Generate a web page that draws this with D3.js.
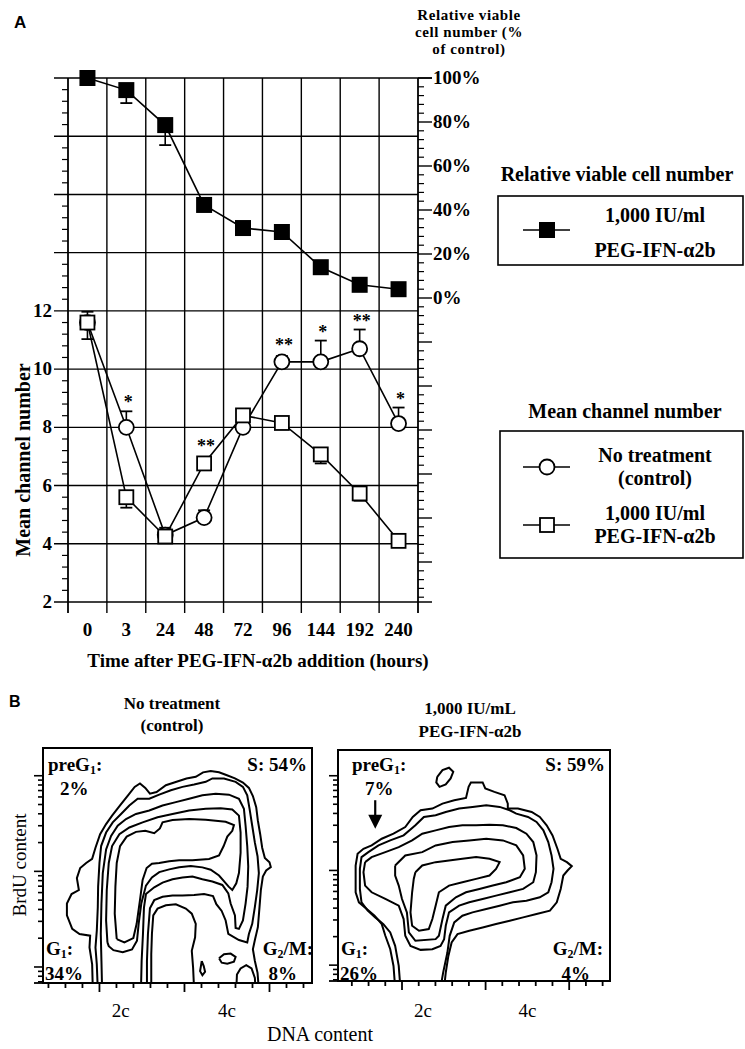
<!DOCTYPE html>
<html><head><meta charset="utf-8">
<script src="https://cdn.jsdelivr.net/npm/d3@7"></script>
<style>
body{margin:0;background:#fff;}
svg{display:block;}
text{fill:#000;}
</style></head><body>
<svg id="c" width="745" height="1049"></svg>
<script>
// ---------------- Panel A data ----------------
const times = ["0","3","24","48","72","96","144","192","240"];
const viable = [100, 94.5, 78.6, 42.3, 31.8, 30, 14, 6, 4];
const viableErr = [0, 5.9, 9.1, 0, 0, 0, 0, 0, 0];
const control = [11.6, 8.0, 4.3, 4.9, 8.0, 10.25, 10.25, 10.7, 8.13];
const controlErr = [0.37, 0.55, 0.25, 0.25, 0, 0.2, 0.73, 0.66, 0.55];
const treated = [11.6, 5.6, 4.25, 6.76, 8.41, 8.15, 7.07, 5.73, 4.1];
const treatedErr = [0.57, 0.36, 0.2, 0, 0, 0.1, 0.31, 0.25, 0];
const signif = ["", "*", "", "**", "", "**", "*", "**", "*"];
const leftTickLabels = [2, 4, 6, 8, 10, 12];
const leftGrid = [2, 4, 6, 8, 10, 12, 14, 16, 18, 20];
const rightTickLabels = [0, 20, 40, 60, 80, 100];

// ---------------- Panel B data (DNA channel, BrdU channel) ----------------
const dnaTicks = d3.range(0, 1025, 51.2);
const dnaMajor = [256, 512, 768];
const dnaLabels = [{v: 320, t: "2c"}, {v: 640, t: "4c"}];

const ctrlContours = [
 [[236,-20],[234,55],[226,105],[228,140],[196,145],[174,160],[158,200],[158,235],[172,263],[194,275],[188,310],[198,340],[216,355],[234,367],[244,400],[258,440],[276,470],[294,495],[318,525],[342,555],[362,580],[378,590],[394,577],[408,560],[428,565],[456,585],[488,595],[518,605],[546,610],[568,623],[591,627],[616,623],[638,615],[664,605],[688,593],[706,577],[718,553],[728,520],[733,480],[740,440],[746,400],[754,370],[768,357],[772,343],[758,333],[748,315],[742,275],[738,225],[733,165],[724,127],[718,100],[724,65],[732,30],[736,-20]],
 [[541,-20],[538,45],[534,95],[544,135],[546,175],[534,205],[516,220],[486,233],[456,230],[431,220],[418,200],[414,145],[412,85],[412,-20]],
 [[668,-20],[670,25],[681,43],[698,53],[714,43],[724,15],[726,-20]],
 [[564,65],[570,50],[574,33],[566,23],[559,35],[562,53],[564,65]],
 [[616,73],[631,85],[651,87],[666,77],[661,63],[641,57],[624,60],[616,73]],
 [[251,-20],[248,55],[244,105],[248,155],[251,225],[252,285],[256,355],[261,405],[276,445],[296,475],[321,500],[346,525],[371,545],[406,545],[436,557],[471,570],[506,580],[541,587],[576,595],[596,605],[631,605],[666,595],[688,580],[701,555],[708,515],[716,465],[724,415],[732,375],[736,325],[731,275],[724,225],[716,175],[706,145],[701,120],[676,127],[644,145],[636,185],[624,213],[608,233],[598,257],[571,263],[541,260],[506,259],[476,259],[446,255],[421,245],[408,221],[402,145],[399,65],[399,-20]],
 [[264,-20],[262,65],[260,145],[262,235],[266,325],[276,395],[291,435],[311,465],[336,485],[366,500],[406,510],[446,525],[486,535],[526,545],[566,555],[606,560],[646,557],[676,545],[691,515],[696,465],[701,405],[704,345],[702,285],[696,235],[688,185],[676,160],[666,163],[664,200],[651,235],[644,265],[626,290],[596,300],[566,307],[536,315],[506,312],[476,307],[446,297],[421,283],[396,263],[390,223],[387,145],[383,65],[381,-20]],
 [[280,120],[276,185],[278,275],[284,355],[294,405],[316,440],[346,460],[386,475],[431,490],[476,500],[526,510],[576,515],[621,517],[656,513],[676,495],[681,445],[681,385],[676,325],[668,295],[656,275],[645,285],[632,300],[616,318],[591,335],[566,342],[531,346],[496,342],[466,336],[436,328],[414,312],[396,288],[382,235],[374,175],[369,125],[354,99],[326,91],[298,97],[284,109],[280,120]],
 [[308,130],[302,205],[304,285],[308,355],[318,405],[338,433],[366,447],[394,450],[421,443],[438,457],[446,475],[476,482],[526,485],[576,483],[636,477],[661,467],[656,450],[641,433],[630,405],[616,377],[586,367],[536,363],[496,363],[466,360],[436,355],[414,353],[398,340],[386,305],[378,245],[368,175],[358,133],[331,120],[308,130]]
];

const pegContours = [
 [[364,610],[380,630],[400,637],[413,625],[405,605],[390,587],[371,580],[361,593],[364,610]],
 [[235,-20],[230,45],[220,95],[205,135],[194,170],[172,195],[148,215],[124,235],[114,265],[114,305],[114,345],[120,380],[138,395],[163,405],[194,425],[230,440],[266,460],[289,490],[313,510],[349,515],[380,530],[416,540],[452,547],[460,580],[467,593],[503,593],[511,575],[539,565],[570,555],[580,530],[580,515],[611,515],[653,505],[678,490],[699,465],[717,435],[732,395],[742,365],[761,355],[776,343],[763,330],[750,315],[742,275],[730,235],[709,210],[668,200],[627,190],[586,180],[544,170],[503,160],[462,150],[426,140],[408,115],[398,75],[390,25],[385,-20]],
 [[251,-20],[246,45],[235,105],[220,145],[199,170],[174,190],[151,210],[132,235],[127,275],[127,335],[132,370],[153,385],[184,405],[220,420],[261,435],[297,465],[323,490],[359,495],[390,505],[431,515],[472,520],[514,525],[555,520],[586,510],[606,500],[642,490],[668,475],[689,450],[704,415],[714,375],[720,335],[714,295],[704,265],[678,250],[637,240],[596,235],[555,225],[514,215],[472,205],[441,195],[416,175],[402,135],[395,85],[382,25],[374,-20]],
 [[143,355],[163,370],[205,385],[246,400],[287,420],[318,440],[359,450],[400,460],[441,465],[483,465],[524,467],[565,465],[606,457],[637,440],[658,415],[668,375],[666,325],[658,295],[627,275],[586,265],[544,255],[503,245],[462,235],[431,225],[400,205],[390,165],[385,125],[374,105],[349,95],[313,93],[282,105],[266,135],[261,185],[246,225],[205,245],[163,265],[143,285],[138,325],[143,355]],
 [[235,345],[266,375],[318,385],[359,405],[411,415],[462,420],[514,425],[565,420],[606,405],[627,375],[632,335],[617,310],[575,295],[534,285],[493,275],[452,265],[421,250],[390,225],[380,185],[369,135],[359,125],[297,120],[277,145],[271,205],[256,245],[246,285],[235,315],[235,345]],
 [[297,325],[318,345],[359,355],[400,360],[441,365],[483,370],[524,365],[555,355],[544,335],[524,315],[483,305],[441,295],[400,285],[369,265],[359,225],[349,185],[338,155],[308,150],[287,165],[282,205],[287,265],[292,305],[297,325]]
];
const pegArrow = {from: [174, 540], to: [174, 455]};

// ---------------- Drawing ----------------
const svg = d3.select("#c");
const K = "#000";
const SERIF = '"Liberation Serif","Times New Roman",serif';
const SANS = '"Liberation Sans",Arial,sans-serif';

function txt(g, x, y, s, o = {}) {
  const t = g.append("text").attr("x", x).attr("y", y).text(s)
    .style("font-size", (o.size || 19) + "px")
    .style("font-family", o.family || SERIF)
    .style("font-weight", o.bold === false ? "normal" : "bold")
    .attr("text-anchor", o.anchor || "start");
  if (o.ls) t.style("letter-spacing", o.ls + "px");
  if (o.rotate) t.attr("transform", `rotate(${o.rotate},${x},${y})`);
  return t;
}

// Panel A
const gA = svg.append("g");
const xA = d3.scaleBand().domain(times).range([68, 418]);
const yL = d3.scaleLinear().domain([2, 20]).range([602, 78]);
const yR = d3.scaleLinear().domain([0, 100]).range([298, 78]);
const cx = t => xA(t) + xA.bandwidth() / 2;
const xl = xA.range()[0], xr = xA.range()[1];

const bounds = times.map(t => xA(t)).concat([xr]);
gA.selectAll(".vg").data(bounds).join("line")
  .attr("x1", d => d).attr("x2", d => d)
  .attr("y1", yL(20)).attr("y2", yL(2) + 11)
  .attr("stroke", K).attr("stroke-width", (d, i) => (i === 0 || i === bounds.length - 1) ? 1.8 : 1.4);
gA.selectAll(".hg").data(leftGrid).join("line")
  .attr("x1", xl - 14).attr("x2", d => (d === 2 || d === 20) ? xr + 14 : xr)
  .attr("y1", d => yL(d)).attr("y2", d => yL(d))
  .attr("stroke", K).attr("stroke-width", 1.4);
const leftMinor = d3.range(2, 20, 0.4).filter(v => Math.abs(v / 2 - Math.round(v / 2)) > 0.01);
gA.selectAll(".lm").data(leftMinor).join("line")
  .attr("x1", xl - 6).attr("x2", xl).attr("y1", d => yL(d)).attr("y2", d => yL(d))
  .attr("stroke", K).attr("stroke-width", 1.2);
const rBottom = yR.invert(yL(2));
const rightMajor = d3.range(100, rBottom, -20);
const rightMinor = d3.range(100, rBottom, -4).filter(v => v % 20 !== 0);
gA.selectAll(".rM").data(rightMajor).join("line")
  .attr("x1", xr).attr("x2", xr + 14).attr("y1", d => yR(d)).attr("y2", d => yR(d))
  .attr("stroke", K).attr("stroke-width", 1.4);
gA.selectAll(".rm").data(rightMinor).join("line")
  .attr("x1", xr).attr("x2", xr + 6).attr("y1", d => yR(d)).attr("y2", d => yR(d))
  .attr("stroke", K).attr("stroke-width", 1.2);

leftTickLabels.forEach(v => txt(gA, 52, yL(v) + 6, String(v), {anchor: "end", size: 19}));
rightTickLabels.forEach(v => txt(gA, 433, yR(v) + 6, v + "%", {size: 19}));
times.forEach(t => txt(gA, cx(t), 636, t, {anchor: "middle", size: 19}));
txt(gA, 258, 667, "Time after PEG-IFN-\u03B12b addition (hours)", {anchor: "middle", size: 19});
txt(gA, 30, 460, "Mean channel number", {anchor: "middle", size: 20, rotate: -90});
txt(gA, 469, 20, "Relative viable", {anchor: "middle", size: 15, ls: 0.6});
txt(gA, 469, 37, "cell number (%", {anchor: "middle", size: 15, ls: 0.6});
txt(gA, 469, 54, "of control)", {anchor: "middle", size: 15, ls: 0.6});
txt(gA, 14, 28, "A", {size: 17, family: SANS});

const lineR = d3.line().x((d, i) => cx(times[i])).y(d => yR(d));
const lineL = d3.line().x((d, i) => cx(times[i])).y(d => yL(d));
[[viable, lineR], [control, lineL], [treated, lineL]].forEach(([arr, gen]) =>
  gA.append("path").attr("d", gen(arr)).attr("fill", "none").attr("stroke", K).attr("stroke-width", 1.6));

function errBars(vals, errs, scale, dir) {
  vals.forEach((v, i) => {
    if (!errs[i]) return;
    const x = cx(times[i]), y0 = scale(v), y1 = scale(v + dir * errs[i]);
    gA.append("line").attr("x1", x).attr("x2", x).attr("y1", y0).attr("y2", y1).attr("stroke", K).attr("stroke-width", 1.6);
    gA.append("line").attr("x1", x - 6).attr("x2", x + 6).attr("y1", y1).attr("y2", y1).attr("stroke", K).attr("stroke-width", 1.8);
  });
}
errBars(viable, viableErr, yR, -1);
errBars(control, controlErr, yL, 1);
errBars(treated, treatedErr, yL, -1);

gA.selectAll(".circ").data(control).join("circle")
  .attr("cx", (d, i) => cx(times[i])).attr("cy", d => yL(d)).attr("r", 7.5)
  .attr("fill", "#fff").attr("stroke", K).attr("stroke-width", 1.8);
gA.selectAll(".sq").data(treated).join("rect")
  .attr("x", (d, i) => cx(times[i]) - 7).attr("y", d => yL(d) - 7).attr("width", 14).attr("height", 14)
  .attr("fill", "#fff").attr("stroke", K).attr("stroke-width", 1.8);
gA.selectAll(".fsq").data(viable).join("rect")
  .attr("x", (d, i) => cx(times[i]) - 8).attr("y", d => yR(d) - 8).attr("width", 16).attr("height", 16)
  .attr("fill", K);

signif.forEach((s, i) => {
  if (!s) return;
  const top = Math.min(yL(control[i] + controlErr[i]), yL(control[i]) - 8, yL(treated[i]) - 8);
  txt(gA, cx(times[i]) + 2, top - 3, s, {anchor: "middle", size: 18});
});

txt(gA, 617, 181, "Relative viable cell number", {anchor: "middle", size: 20});
gA.append("rect").attr("x", 498).attr("y", 196).attr("width", 245).attr("height", 69).attr("fill", "none").attr("stroke", K).attr("stroke-width", 1.6);
gA.append("line").attr("x1", 523).attr("x2", 570).attr("y1", 230).attr("y2", 230).attr("stroke", K).attr("stroke-width", 1.6);
gA.append("rect").attr("x", 539).attr("y", 222).attr("width", 16).attr("height", 16).attr("fill", K);
txt(gA, 655, 222, "1,000 IU/ml", {anchor: "middle", size: 20});
txt(gA, 655, 257, "PEG-IFN-\u03B12b", {anchor: "middle", size: 20});

txt(gA, 625, 418, "Mean channel number", {anchor: "middle", size: 20});
gA.append("rect").attr("x", 500).attr("y", 431).attr("width", 243).attr("height", 127).attr("fill", "none").attr("stroke", K).attr("stroke-width", 1.6);
[467, 525].forEach(y => gA.append("line").attr("x1", 523).attr("x2", 570).attr("y1", y).attr("y2", y).attr("stroke", K).attr("stroke-width", 1.6));
gA.append("circle").attr("cx", 547).attr("cy", 467).attr("r", 7.5).attr("fill", "#fff").attr("stroke", K).attr("stroke-width", 1.8);
gA.append("rect").attr("x", 540).attr("y", 518).attr("width", 14).attr("height", 14).attr("fill", "#fff").attr("stroke", K).attr("stroke-width", 1.8);
txt(gA, 655, 462, "No treatment", {anchor: "middle", size: 20});
txt(gA, 655, 485, "(control)", {anchor: "middle", size: 20});
txt(gA, 655, 520, "1,000 IU/ml", {anchor: "middle", size: 20});
txt(gA, 655, 543, "PEG-IFN-\u03B12b", {anchor: "middle", size: 20});

// Panel B
const gB = svg.append("g");
txt(gB, 9, 707, "B", {size: 16, family: SANS});

function subLabel(g, x, y, pre, sub, post, anchor) {
  const t = g.append("text").attr("x", x).attr("y", y)
    .style("font-size", "19px").style("font-weight", "bold").style("font-family", SERIF)
    .attr("text-anchor", anchor || "start");
  t.append("tspan").text(pre);
  t.append("tspan").text(sub).style("font-size", "12px").attr("dy", 3);
  t.append("tspan").text(post).attr("dy", -3);
}

function flowPlot(cfg) {
  const f = cfg.frame;
  const xs = d3.scaleLinear().domain(cfg.dnaDomain).range([f.x0, f.x1]);
  const ys = d3.scaleLinear().domain(cfg.brduDomain).range([f.y1, f.y0]);
  const yl = d3.scaleLog().domain(cfg.logDomain).range([f.y1, f.y0]);
  const g = gB.append("g");
  const cid = "clip" + cfg.id;
  svg.append("defs").append("clipPath").attr("id", cid).append("rect")
    .attr("x", f.x0).attr("y", f.y0).attr("width", f.x1 - f.x0).attr("height", f.y1 - f.y0);
  const line = d3.line().x(d => xs(d[0])).y(d => ys(d[1]));
  g.append("g").attr("clip-path", `url(#${cid})`).selectAll("path").data(cfg.contours).join("path")
    .attr("d", line).attr("fill", "none").attr("stroke", K).attr("stroke-width", 2).attr("stroke-linejoin", "miter");
  g.append("rect").attr("x", f.x0).attr("y", f.y0).attr("width", f.x1 - f.x0).attr("height", f.y1 - f.y0)
    .attr("fill", "none").attr("stroke", K).attr("stroke-width", 2);
  const xt = dnaTicks.filter(v => v > cfg.dnaDomain[0] + 5 && v < cfg.dnaDomain[1] - 5);
  g.selectAll(".xt").data(xt).join("line")
    .attr("x1", d => xs(d)).attr("x2", d => xs(d)).attr("y1", f.y1)
    .attr("y2", d => f.y1 + (dnaMajor.includes(d) ? 9 : 5))
    .attr("stroke", K).attr("stroke-width", 1.8);
  const lt = yl.ticks().filter(v => yl(v) < f.y1 - 1 && yl(v) > f.y0 + 1);
  const isDec = v => Math.abs(Math.log10(v) - Math.round(Math.log10(v))) < 1e-6;
  g.selectAll(".yt").data(lt).join("line")
    .attr("y1", d => yl(d)).attr("y2", d => yl(d)).attr("x1", f.x0)
    .attr("x2", d => f.x0 - (isDec(d) ? 9 : 5))
    .attr("stroke", K).attr("stroke-width", 1.6);
  g.append("line").attr("x1", f.x0 - 9).attr("x2", f.x0).attr("y1", f.y1).attr("y2", f.y1).attr("stroke", K).attr("stroke-width", 1.8);
  dnaLabels.forEach(l => txt(g, xs(l.v), 1017, l.t, {anchor: "middle", size: 19, bold: false}));
  txt(g, cfg.titleX, cfg.titleY[0], cfg.title[0], {anchor: "middle", size: 17});
  txt(g, cfg.titleX, cfg.titleY[1], cfg.title[1], {anchor: "middle", size: 17});
  const L = cfg.labels;
  subLabel(g, f.x0 + L.preX, 771, "preG", "1", ":");
  txt(g, f.x0 + L.pctX, 795, L.pre, {size: 19});
  txt(g, f.x1 - 5, 771, "S: " + L.s, {anchor: "end", size: 19});
  subLabel(g, f.x0 + 3, 955, "G", "1", ":");
  txt(g, f.x0 + 2, 980, L.g1, {size: 19});
  subLabel(g, f.x1 + L.g2dx, 955, "G", "2", "/M:", "end");
  txt(g, f.x1 - L.g2pdx, 980, L.g2, {anchor: "end", size: 19});
  if (cfg.arrow) {
    const a = cfg.arrow, x = xs(a.from[0]), y0 = ys(a.from[1]), y1 = ys(a.to[1]);
    g.append("line").attr("x1", x).attr("x2", x).attr("y1", y0).attr("y2", y1 - 10).attr("stroke", K).attr("stroke-width", 2.2);
    g.append("path").attr("d", `M${x - 7},${y1 - 14}L${x + 7},${y1 - 14}L${x},${y1}Z`).attr("fill", K);
  }
}

flowPlot({
  id: 1, frame: {x0: 43, x1: 312, y0: 748, y1: 983},
  dnaDomain: [86, 896], brduDomain: [0, 695], logDomain: [0.68, 195],
  contours: ctrlContours,
  title: ["No treatment", "(control)"], titleX: 172, titleY: [709, 731],
  labels: {pre: "2%", s: "54%", g1: "34%", g2: "8%", preX: 5, pctX: 17, g2dx: 1, g2pdx: 15}
});
flowPlot({
  id: 2, frame: {x0: 338, x1: 610, y0: 750, y1: 981},
  dnaDomain: [60, 893], brduDomain: [0, 690], logDomain: [0.68, 187],
  contours: pegContours, arrow: pegArrow,
  title: ["1,000 IU/mL", "PEG-IFN-\u03B12b"], titleX: 470, titleY: [714, 737],
  labels: {pre: "7%", s: "59%", g1: "26%", g2: "4%", preX: 14, pctX: 27, g2dx: -7, g2pdx: 20}
});

txt(gB, 26, 865, "BrdU content", {anchor: "middle", size: 19, bold: false, rotate: -90});
txt(gB, 320, 1041, "DNA content", {anchor: "middle", size: 20, bold: false});
</script>
</body></html>
